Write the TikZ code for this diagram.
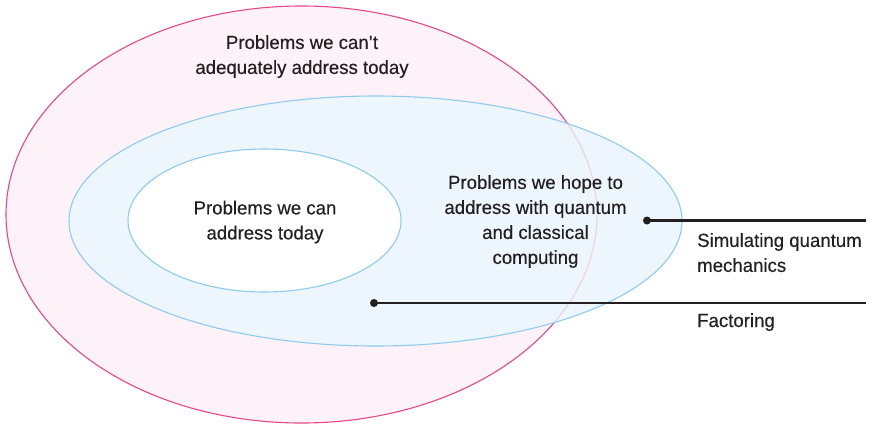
\documentclass[tikz,border=0pt]{standalone}
\usepackage{fontspec}
\setmainfont{Liberation Sans}[FakeStretch=0.98, FakeBold=0.25]
\usetikzlibrary{shapes.geometric}
\definecolor{pinkline}{HTML}{E8478B}
\definecolor{pinkfill}{HTML}{FDF2F8}
\definecolor{blueline}{HTML}{8DCBEF}
\definecolor{bluefill}{HTML}{EEF6FD}
\definecolor{ink}{HTML}{231F20}
\tikzset{
  region/.style={ellipse, inner sep=0pt, outer sep=0pt, line width=1.1pt},
  lbl/.style={text=ink, font=\fontsize{19}{25}\selectfont, align=center, inner sep=0pt},
  dotmark/.style={circle, fill=ink, inner sep=0pt, minimum size=8pt},
  conn/.style={draw=ink, line width=2.2pt},
}
\begin{document}
\begin{tikzpicture}[x=1pt, y=-1pt]
\useasboundingbox (0,0) rectangle (874,426);
% outer pink region
\node[region, draw=pinkline, fill=pinkfill, minimum width=591pt, minimum height=417pt] (outer) at (301.5,214.5) {};
% middle blue region
\node[region, fill=bluefill, minimum width=613pt, minimum height=250pt] (middle) at (375.5,221) {};
\begin{scope}
  \clip (middle.center) ellipse [x radius=306.5pt, y radius=125pt];
  \draw[pinkline, line width=1.1pt, draw opacity=0.22] (outer.center) ellipse [x radius=295.5pt, y radius=208.5pt];
\end{scope}
\node[region, draw=blueline, minimum width=613pt, minimum height=250pt] (middleline) at (375.5,221) {};
% inner white region
\node[region, draw=blueline, fill=white, minimum width=273pt, minimum height=143pt] (inner) at (264.5,220.5) {};
% labels
\node[lbl] (tout) at (302,56.5) {Problems we can’t\\adequately address today};
\node[lbl] (tin) at (265,222) {Problems we can\\address today};
\node[lbl] (tmid) at (535.5,221.5) {Problems we hope to\\address with quantum\\and classical\\computing};
\node[lbl, align=left, anchor=west] (tsim) at (697,252.6) {Simulating quantum\\mechanics};
\node[lbl, anchor=base west] (tfac) at (697,327) {Factoring};
% connectors
\node[dotmark] (d1) at (647,220.5) {};
\coordinate (e1) at (866,220.5);
\node[dotmark] (d2) at (374,303) {};
\coordinate (e2) at (866,303);
\draw[conn] (d1.center) -- (e1);
\draw[conn] (d2.center) -- (e2);
\end{tikzpicture}
\end{document}
